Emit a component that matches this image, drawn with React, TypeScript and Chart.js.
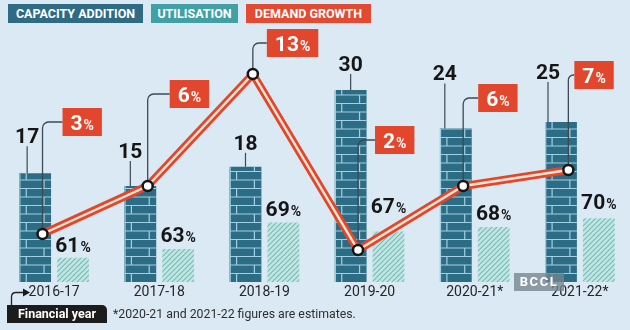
import React, { useEffect, useRef } from 'react';
import { Chart, registerables } from 'chart.js';

Chart.register(...registerables);

// ---- data ----
const YEARS = ['2016-17', '2017-18', '2018-19', '2019-20', '2020-21*', '2021-22*'];
const CAPACITY_ADDITION = [17, 15, 18, 30, 24, 25];
const UTILISATION = [61, 63, 69, 67, 68, 70];
const DEMAND_GROWTH = [3, 6, 13, 2, 6, 7];

// ---- label layout (px offsets, not data) ----
const CAP_LABEL_DX = [-8, -10, 0, 0, -11, -13];
const CAP_LABEL_LIFT = [30, 28, 17, 19, 48, 43];
const UTIL_LABEL_LIFT = [6, 7, 7, 18, 7, 9];
const DEMAND_BOX_LIFT = [112, 92, 31, 110, 88, 95];
const DEMAND_BOX_GAP = [20, 22, 14, 17, 15, 6];
const POINT_SHIFT = -0.11; // fraction of a category width

// ---- styles ----
const BG = '#dbe9f4';
const BRICK = '#2d6c85';
const MORTAR = '#a3d0e2';
const RED = '#e2472e';
const CREAM = '#fde6d2';
const INK = '#161616';
const FONT = "'Roboto', sans-serif";

function makeHatch(): CanvasPattern | string {
  const c = document.createElement('canvas');
  c.width = 5;
  c.height = 5;
  const g = c.getContext('2d');
  if (!g) return '#9fd3cf';
  g.fillStyle = '#c4e6e3';
  g.fillRect(0, 0, 5, 5);
  g.strokeStyle = '#74beb8';
  g.lineWidth = 1.2;
  g.beginPath();
  g.moveTo(0, 5); g.lineTo(5, 0);
  g.moveTo(-1, 1); g.lineTo(1, -1);
  g.moveTo(4, 6); g.lineTo(6, 4);
  g.stroke();
  return g.createPattern(c, 'repeat') || '#9fd3cf';
}

function drawPct(ctx: CanvasRenderingContext2D, num: string, cx: number, baseline: number, color: string, big: number, small: number) {
  ctx.font = `bold ${big}px ${FONT}`;
  const w1 = ctx.measureText(num).width;
  ctx.font = `bold ${small}px ${FONT}`;
  const w2 = ctx.measureText('%').width;
  const x0 = cx - (w1 + w2 + 1) / 2;
  ctx.fillStyle = color;
  ctx.textAlign = 'left';
  ctx.textBaseline = 'alphabetic';
  ctx.font = `bold ${big}px ${FONT}`;
  ctx.fillText(num, x0, baseline);
  ctx.font = `bold ${small}px ${FONT}`;
  ctx.fillText('%', x0 + w1 + 1, baseline);
}

// shift the demand line points off the group centre onto the capacity bar
const shiftPlugin = {
  id: 'lineShift',
  afterDatasetsUpdate(chart: any) {
    const xs = chart.scales.x;
    const step = xs.width / YEARS.length;
    [2, 3].forEach((di) => {
      chart.getDatasetMeta(di).data.forEach((pt: any) => {
        pt.x += POINT_SHIFT * step;
      });
    });
  },
};

const brickPlugin = {
  id: 'bricks',
  afterDatasetDraw(chart: any, args: any) {
    if (args.index !== 0) return;
    const ctx: CanvasRenderingContext2D = chart.ctx;
    const ROW_H = 8.5;
    chart.getDatasetMeta(0).data.forEach((bar: any) => {
      const { x, y, base, width } = bar.getProps(['x', 'y', 'base', 'width'], true);
      const left = x - width / 2;
      const right = x + width / 2;
      ctx.save();
      ctx.beginPath();
      ctx.rect(left, y, width, base - y);
      ctx.clip();
      ctx.strokeStyle = MORTAR;
      ctx.lineWidth = 1.2;
      ctx.beginPath();
      let row = 0;
      for (let yy = base; yy > y; yy -= ROW_H, row++) {
        const yt = yy - ROW_H;
        ctx.moveTo(left, yt);
        ctx.lineTo(right, yt);
        const jx = row % 2 === 0 ? left + 7 : right - 7;
        ctx.moveTo(jx, yt);
        ctx.lineTo(jx, yy);
      }
      ctx.moveTo(left + 0.6, y);
      ctx.lineTo(left + 0.6, base);
      ctx.stroke();
      ctx.restore();
    });
  },
};

const labelPlugin = {
  id: 'labels',
  beforeDatasetDraw(chart: any, args: any) {
    if (args.index !== 2) return;
    const ctx: CanvasRenderingContext2D = chart.ctx;
    const pts = chart.getDatasetMeta(3).data;
    ctx.save();
    ctx.strokeStyle = '#3b4a55';
    ctx.lineWidth = 1.3;
    pts.forEach((p: any, i: number) => {
      const { x, y } = p;
      const cy = y - DEMAND_BOX_LIFT[i];
      const bx = x + DEMAND_BOX_GAP[i];
      const r = Math.min(6, DEMAND_BOX_GAP[i] - 1);
      ctx.beginPath();
      ctx.moveTo(x, y);
      ctx.lineTo(x, cy + r);
      ctx.arcTo(x, cy, x + r, cy, r);
      ctx.lineTo(bx, cy);
      ctx.stroke();
    });
    ctx.restore();
  },
  afterDatasetsDraw(chart: any) {
    const ctx: CanvasRenderingContext2D = chart.ctx;
    ctx.save();
    // capacity labels
    chart.getDatasetMeta(0).data.forEach((bar: any, i: number) => {
      const { x, y } = bar.getProps(['x', 'y'], true);
      const lx = x + CAP_LABEL_DX[i];
      const baseline = y - CAP_LABEL_LIFT[i];
      ctx.strokeStyle = '#3b4a55';
      ctx.lineWidth = 1.2;
      ctx.beginPath();
      ctx.moveTo(lx, baseline + 3);
      ctx.lineTo(lx, y);
      ctx.stroke();
      ctx.font = `bold 21px ${FONT}`;
      ctx.fillStyle = INK;
      ctx.textAlign = 'center';
      ctx.textBaseline = 'alphabetic';
      ctx.fillText(String(CAPACITY_ADDITION[i]), lx, baseline);
    });
    // utilisation labels
    chart.getDatasetMeta(1).data.forEach((bar: any, i: number) => {
      const { x, y } = bar.getProps(['x', 'y'], true);
      drawPct(ctx, String(UTILISATION[i]), x, y - UTIL_LABEL_LIFT[i], INK, 21, 14);
    });
    // demand boxes
    chart.getDatasetMeta(3).data.forEach((p: any, i: number) => {
      const { x, y } = p;
      const cy = y - DEMAND_BOX_LIFT[i];
      const bx = x + DEMAND_BOX_GAP[i];
      const num = String(DEMAND_GROWTH[i]);
      ctx.font = `bold 21px ${FONT}`;
      const w1 = ctx.measureText(num).width;
      ctx.font = `bold 14px ${FONT}`;
      const w2 = ctx.measureText('%').width;
      const bw = w1 + w2 + 1 + 16;
      ctx.fillStyle = RED;
      ctx.fillRect(bx, cy - 14, bw, 28);
      drawPct(ctx, num, bx + bw / 2, cy + 7.5, '#ffffff', 21, 14);
    });
    ctx.restore();
  },
};

export default function App() {
  const ref = useRef<HTMLCanvasElement>(null);

  useEffect(() => {
    document.body.style.margin = '0';
    const canvas = ref.current;
    if (!canvas) return;
    const hatch = makeHatch();
    const chart = new Chart(canvas, {
      type: 'bar',
      data: {
        labels: YEARS,
        datasets: [
          {
            type: 'bar',
            label: 'Capacity addition',
            data: CAPACITY_ADDITION,
            backgroundColor: BRICK,
            yAxisID: 'yCap',
            order: 3,
            categoryPercentage: 0.72,
            barPercentage: 0.84,
          },
          {
            type: 'bar',
            label: 'Utilisation',
            data: UTILISATION,
            backgroundColor: hatch as any,
            yAxisID: 'yUtil',
            order: 3,
            categoryPercentage: 0.72,
            barPercentage: 0.84,
          },
          {
            type: 'line',
            label: 'Demand growth',
            data: DEMAND_GROWTH,
            yAxisID: 'yDem',
            borderColor: RED,
            borderWidth: 8,
            borderJoinStyle: 'miter',
            pointRadius: 0,
            order: 2,
          },
          {
            type: 'line',
            label: 'Demand growth (core)',
            data: DEMAND_GROWTH,
            yAxisID: 'yDem',
            borderColor: CREAM,
            borderWidth: 2.4,
            borderJoinStyle: 'miter',
            pointRadius: 5,
            pointBackgroundColor: '#ffffff',
            pointBorderColor: INK,
            pointBorderWidth: 2.5,
            order: 1,
          },
        ] as any,
      },
      options: {
        responsive: false,
        animation: false,
        devicePixelRatio: 1,
        layout: { padding: { left: 2, right: 1, top: 10, bottom: 0 } },
        plugins: { legend: { display: false }, tooltip: { enabled: false } },
        scales: {
          x: {
            type: 'category',
            offset: true,
            grid: { display: false, drawTicks: false },
            border: { display: false },
            ticks: {
              color: '#262626',
              font: { family: FONT, size: 14 },
              padding: 2,
              maxRotation: 0,
              autoSkip: false,
            },
            afterFit: (s: any) => {
              s.height = 48;
            },
          },
          yCap: { type: 'linear', position: 'left', display: false, min: 0, max: 42.5 },
          yUtil: { type: 'linear', position: 'left', display: false, min: 55.5, max: 117.3 },
          yDem: { type: 'linear', position: 'left', display: false, min: 0, max: 17 },
        },
      } as any,
      plugins: [shiftPlugin, brickPlugin, labelPlugin],
    });
    return () => chart.destroy();
  }, []);

  const legendBox = (left: number, width: number, bg: string, text: string) => (
    <div
      style={{
        position: 'absolute',
        left,
        top: 4,
        width,
        height: 19,
        background: bg,
        color: '#ffffff',
        fontFamily: FONT,
        fontWeight: 700,
        fontSize: 12.5,
        lineHeight: '19px',
        textAlign: 'center',
        whiteSpace: 'nowrap',
      }}
    >
      {text}
    </div>
  );

  return (
    <div
      style={{
        position: 'fixed',
        left: 0,
        top: 0,
        width: 630,
        height: 330,
        overflow: 'hidden',
        background: BG,
      }}
    >
      <canvas
        ref={ref}
        width={646}
        height={330}
        style={{ position: 'absolute', left: -6, top: 0, width: 646, height: 330 }}
      />
      {legendBox(8, 135, '#2f6b84', 'CAPACITY ADDITION')}
      {legendBox(151, 87, '#41a0a5', 'UTILISATION')}
      {legendBox(246, 125, '#e24a31', 'DEMAND GROWTH')}
      <svg width={40} height={30} style={{ position: 'absolute', left: 0, top: 282 }}>
        <path d="M11.5 24 L11.5 15 Q11.5 10.5 16 10.5 L23 10.5" fill="none" stroke="#222" strokeWidth={1.3} />
        <path d="M23 6.5 L30 10.5 L23 14.5 Z" fill="#1a1a1a" />
      </svg>
      <div
        style={{
          position: 'absolute',
          left: 7,
          top: 305,
          width: 100,
          height: 18,
          background: '#1c1c1c',
          borderTopRightRadius: 5,
          color: '#ffffff',
          fontFamily: FONT,
          fontWeight: 700,
          fontSize: 12.5,
          lineHeight: '18px',
          textAlign: 'center',
          whiteSpace: 'nowrap',
        }}
      >
        Financial year
      </div>
      <div
        style={{
          position: 'absolute',
          left: 113,
          top: 305,
          height: 18,
          lineHeight: '18px',
          color: '#2e2e2e',
          fontFamily: FONT,
          fontSize: 12.3,
          whiteSpace: 'nowrap',
        }}
      >
        *2020-21 and 2021-22 figures are estimates.
      </div>
      <div
        style={{
          position: 'absolute',
          left: 514,
          top: 273,
          width: 50,
          height: 18,
          background: 'rgba(118,132,142,0.78)',
          color: '#ffffff',
          fontFamily: FONT,
          fontWeight: 700,
          fontSize: 13,
          lineHeight: '18px',
          textAlign: 'center',
          letterSpacing: 1.5,
        }}
      >
        BCCL
      </div>
    </div>
  );
}
